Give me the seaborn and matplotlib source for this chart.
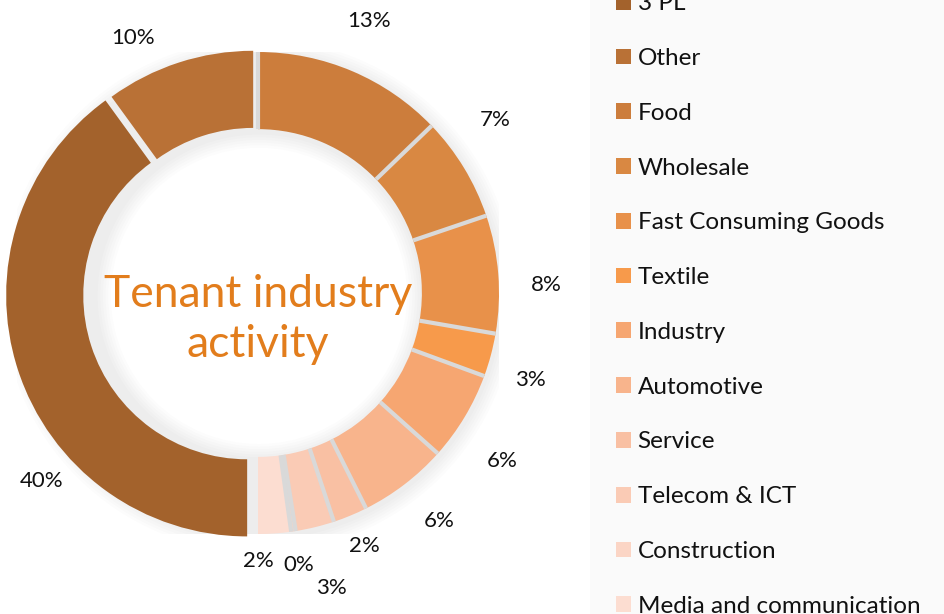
import numpy as np
import matplotlib
matplotlib.use("Agg")
import matplotlib.pyplot as plt
import seaborn as sns
from matplotlib.patches import Rectangle, Patch, Wedge

sns.set_theme(style="white")
plt.rcParams['font.family'] = ['Lato', 'DejaVu Sans']

# data (shares in %, legend order)
industries = ["3 PL", "Other", "Food", "Wholesale", "Fast Consuming Goods", "Textile",
              "Industry", "Automotive", "Service", "Telecom & ICT", "Construction",
              "Media and communication"]
shares = [40.0, 10.0, 12.8, 7.0, 7.9, 2.9, 6.0, 6.0, 2.3, 2.6, 0.3, 2.2]
pct_labels = ["40%", "10%", "13%", "7%", "8%", "3%", "6%", "6%", "2%", "3%", "0%", "2%"]

colors = ["#A3622C", "#B97136", "#CC7D3C", "#D98842", "#E8914A", "#F79A4B",
          "#F6A671", "#F8B48C", "#F9C0A3", "#FACBB5", "#FBD5C5", "#FCDDD1"]
# Excel "best fit" label placement: position along wedge (clockwise) and distance
label_frac = [0.34, 0.275, 0.48, 0.31, 0.60, 0.77, 0.66, 0.45, 0.46, 0.46, 0.5, 1.0]
label_dist = [1.19, 1.18, 1.22, 1.22, 1.195, 1.185, 1.23, 1.21, 1.14, 1.26, 1.14, 1.11]

W, H = 944, 614
fig = plt.figure(figsize=(W / 100, H / 100), dpi=100)
fig.patch.set_facecolor("white")

# legend panel background
fig.patches.append(Rectangle((590 / W, 0), 1 - 590 / W, 1, transform=fig.transFigure,
                             facecolor="#FAFAFA", edgecolor="none", zorder=0))

# donut axes (square in pixels)
cx, cy, R = 258, 293, 241
ax = fig.add_axes([(cx - R) / W, (H - cy - R) / H, 2 * R / W, 2 * R / H])

ring_w = 0.32
# soft shadow around the ring
for k in range(1, 7):
    ax.add_patch(Wedge((0.004, -0.012), 1 + k * 0.011, 0, 360, width=ring_w + 2 * k * 0.011,
                       facecolor="#000000", alpha=0.012, edgecolor="none", zorder=0))

wedges, _ = ax.pie(shares, colors=colors, startangle=270, counterclock=False, radius=1,
                   wedgeprops=dict(width=ring_w, edgecolor="none", zorder=2))
# the two largest slices are pulled out a little
wedges[0].set_center((-0.045, -0.01))
wedges[1].set_center((-0.02, 0.005))

# light grey separators between the slices
for w in wedges[2:]:
    a = np.deg2rad(w.theta2)
    ax.plot([(1 - ring_w) * np.cos(a), np.cos(a)], [(1 - ring_w) * np.sin(a), np.sin(a)],
            color="#D9D9D9", lw=3, solid_capstyle="butt", zorder=3)

ax.set_xlim(-1, 1)
ax.set_ylim(-1, 1)
ax.axis("off")

for w, lab, f, d in zip(wedges, pct_labels, label_frac, label_dist):
    ang = np.deg2rad(w.theta2 - f * (w.theta2 - w.theta1))
    ax.text(d * np.cos(ang), d * np.sin(ang), lab, ha="center", va="center",
            fontsize=16, color="#111111", clip_on=False)

# centre title
ax.text(0, -0.11, "Tenant industry\nactivity", ha="center", va="center",
        fontsize=32, color="#E27D1C", linespacing=1.3)

# legend
handles = [Patch(facecolor=c, edgecolor="none") for c in colors]
leg = fig.legend(handles, industries, loc="center left",
                 bbox_to_anchor=(606 / W, 0.5 + 2 / H),
                 frameon=False, fontsize=17.5, labelspacing=1.39, handlelength=0.62,
                 handleheight=0.62, handletextpad=0.28, borderaxespad=0)
for t in leg.get_texts():
    t.set_color("#111111")

fig.savefig("out.png", dpi=100)
